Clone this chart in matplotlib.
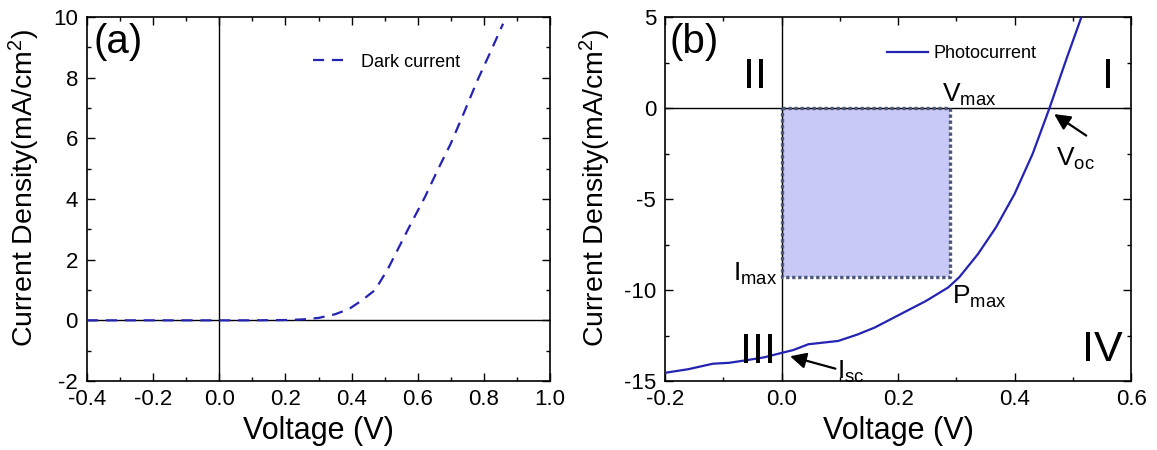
import matplotlib
matplotlib.use("Agg")
import matplotlib.pyplot as plt
from matplotlib.ticker import MultipleLocator, FormatStrFormatter
from matplotlib.patches import Rectangle

plt.rcParams['font.family'] = ['Liberation Sans', 'DejaVu Sans']
plt.rcParams['mathtext.fontset'] = 'custom'
plt.rcParams['mathtext.rm'] = 'Liberation Sans'
plt.rcParams['mathtext.it'] = 'Liberation Sans'
plt.rcParams['mathtext.default'] = 'regular'

# Dark current (panel a)
dark_v = [-0.40, -0.30, -0.20, -0.10, 0.00, 0.10, 0.20, 0.25, 0.30, 0.35, 0.393, 0.43, 0.471,
          0.51, 0.544, 0.58, 0.622, 0.66, 0.70, 0.74, 0.78, 0.82, 0.858]
dark_j = [0.0, 0.0, 0.0, 0.0, 0.0, 0.0, 0.01, 0.03, 0.08, 0.2, 0.38, 0.65, 1.0,
          1.7, 2.43, 3.2, 4.07, 4.95, 5.83, 6.85, 7.9, 8.85, 9.78]

# Photocurrent (panel b)
photo_v = [-0.20, -0.16, -0.118, -0.09, -0.061, -0.03, 0.002, 0.02, 0.046, 0.097, 0.13, 0.16,
           0.204, 0.248, 0.286, 0.305, 0.337, 0.368, 0.40, 0.431, 0.46, 0.488, 0.517]
photo_j = [-14.55, -14.35, -14.05, -14.0, -13.86, -13.7, -13.44, -13.3, -12.98, -12.8, -12.45, -12.06,
           -11.33, -10.6, -9.86, -9.3, -8.03, -6.56, -4.72, -2.52, 0.0, 2.6, 5.2]

v_max = 0.29
i_max = -9.3

fig = plt.figure(figsize=(11.57, 4.5), dpi=100)
ax1 = fig.add_axes([0.0752, 0.1533, 0.4002, 0.8089])
ax2 = fig.add_axes([0.5748, 0.1533, 0.4028, 0.8089])

line_col = '#2323b4'

def style(ax):
    for s in ax.spines.values():
        s.set_linewidth(1.2)
    ax.tick_params(which='both', direction='in', top=True, right=True, labelsize=16, width=1.0)
    ax.tick_params(axis='x', which='major', pad=6)
    ax.tick_params(axis='y', which='major', pad=6.5)
    ax.tick_params(which='major', length=5.5)
    ax.tick_params(which='minor', length=3)

# Panel (a)
ax1.axhline(0, color='black', lw=1.0, zorder=1)
ax1.axvline(0, color='black', lw=1.0, zorder=1)
ax1.plot(dark_v, dark_j, color=line_col, lw=1.6, dashes=(5, 3.5), label='Dark current', zorder=3)
ax1.set_xlim(-0.4, 1.0)
ax1.set_ylim(-2, 10)
ax1.xaxis.set_major_locator(MultipleLocator(0.2))
ax1.xaxis.set_minor_locator(MultipleLocator(0.1))
ax1.yaxis.set_major_locator(MultipleLocator(2))
ax1.yaxis.set_minor_locator(MultipleLocator(1))
ax1.xaxis.set_major_formatter(FormatStrFormatter('%.1f'))
ax1.yaxis.set_major_formatter(FormatStrFormatter('%d'))
style(ax1)
ax1.set_xlabel('Voltage (V)', fontsize=22, labelpad=4)
ax1.set_ylabel('Current Density(mA/cm$^2$)', fontsize=20.5)
ax1.yaxis.set_label_coords(-0.097, 0.53)
ax1.text(0.013, 0.93, '(a)', transform=ax1.transAxes, fontsize=29, va='center', ha='left')
ax1.legend(loc='center left', bbox_to_anchor=(0.488, 0.876), frameon=False, fontsize=13,
           borderpad=0, borderaxespad=0, handlelength=1.95, handletextpad=0.72)

# Panel (b)
ax2.add_patch(Rectangle((0, i_max), v_max, -i_max, facecolor='#c9c9f7', edgecolor='none', zorder=0))
ax2.plot([0, v_max, v_max, 0, 0], [0, 0, i_max, i_max, 0], color='#4b5878', lw=2.4,
         ls=(0, (1, 0.8)), zorder=2)
ax2.axhline(0, color='black', lw=1.0, zorder=1)
ax2.axvline(0, color='black', lw=1.0, zorder=1)
ax2.plot(photo_v, photo_j, color=line_col, lw=1.6, label='Photocurrent', zorder=3)
ax2.set_xlim(-0.2, 0.6)
ax2.set_ylim(-15, 5)
ax2.xaxis.set_major_locator(MultipleLocator(0.2))
ax2.xaxis.set_minor_locator(MultipleLocator(0.1))
ax2.yaxis.set_major_locator(MultipleLocator(5))
ax2.yaxis.set_minor_locator(MultipleLocator(2.5))
ax2.xaxis.set_major_formatter(FormatStrFormatter('%.1f'))
ax2.yaxis.set_major_formatter(FormatStrFormatter('%d'))
style(ax2)
ax2.set_xlabel('Voltage (V)', fontsize=22, labelpad=4)
ax2.set_ylabel('Current Density(mA/cm$^2$)', fontsize=20.5)
ax2.yaxis.set_label_coords(-0.112, 0.53)
ax2.text(0.009, 0.93, '(b)', transform=ax2.transAxes, fontsize=29, va='center', ha='left')
ax2.legend(loc='center left', bbox_to_anchor=(0.476, 0.90), frameon=False, fontsize=13,
           borderpad=0, borderaxespad=0, handlelength=2.3, handletextpad=0.3)

ax2.text(-0.046, 1.7, 'II', fontsize=31, ha='center', va='center')
ax2.text(0.561, 1.7, 'I', fontsize=31, ha='center', va='center')
ax2.text(-0.04, -13.4, 'III', fontsize=31, ha='center', va='center')
ax2.text(0.550, -13.3, 'IV', fontsize=31, ha='center', va='center')
ax2.text(0.2755, 0.33, '$V_{max}$', fontsize=19, ha='left', va='baseline')
ax2.text(-0.045, -9.1, '$I_{max}$', fontsize=19, ha='center', va='center')
ax2.text(0.34, -10.4, '$P_{max}$', fontsize=19, ha='center', va='center')
ax2.text(0.505, -2.8, '$V_{oc}$', fontsize=19, ha='center', va='center')
ax2.text(0.118, -14.5, '$I_{sc}$', fontsize=19, ha='center', va='center')
ax2.annotate('', xy=(0.464, -0.25), xytext=(0.527, -1.6),
             arrowprops=dict(arrowstyle='-|>', color='black', lw=1.6, mutation_scale=24))
ax2.annotate('', xy=(0.01, -13.6), xytext=(0.097, -14.36),
             arrowprops=dict(arrowstyle='-|>', color='black', lw=1.6, mutation_scale=24))

fig.savefig('out.png', dpi=100)
